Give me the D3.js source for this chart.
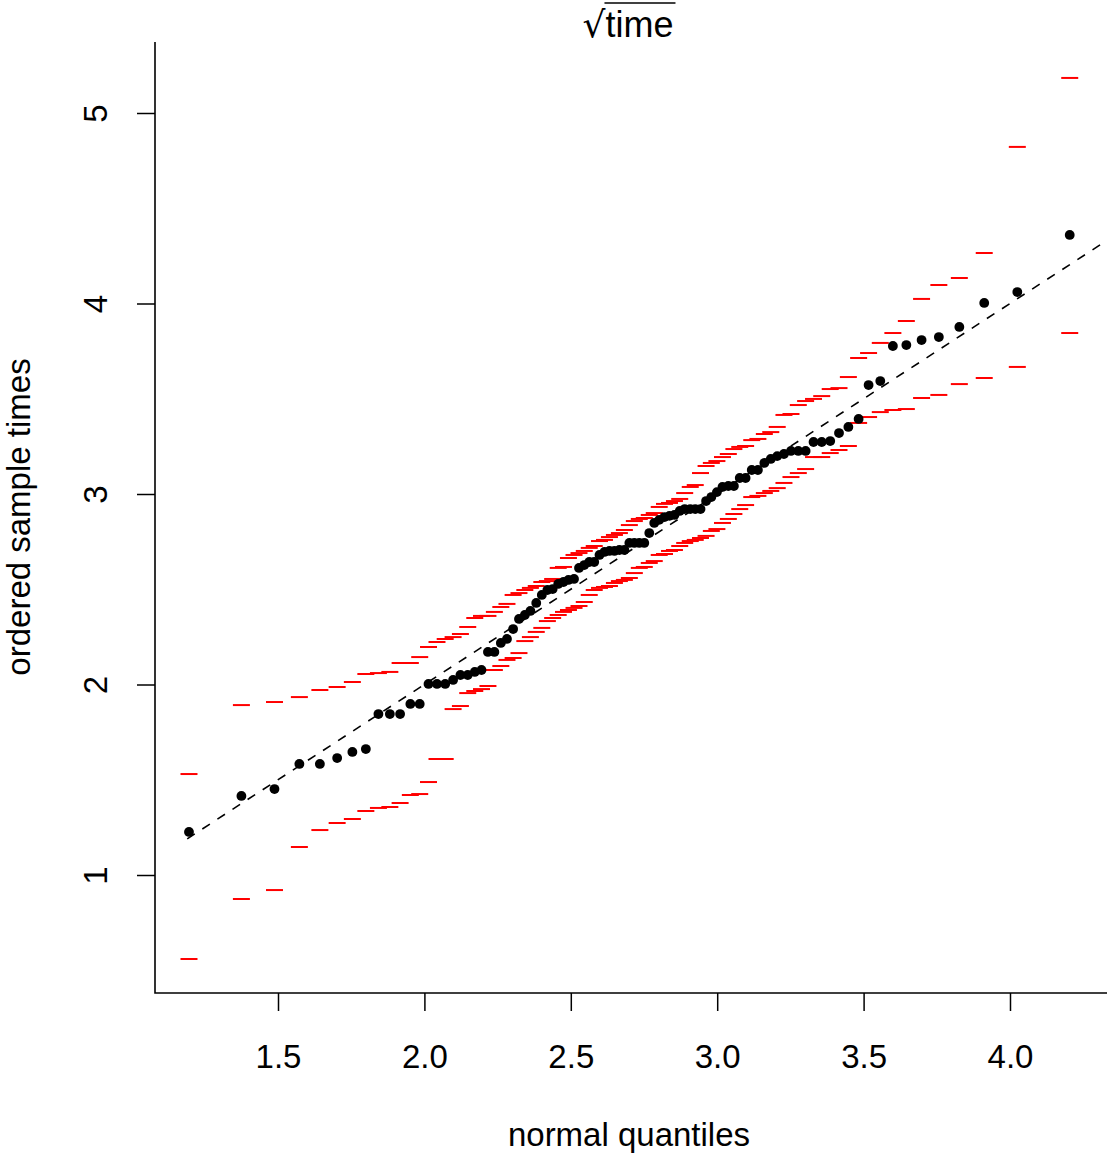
<!DOCTYPE html>
<html>
<head>
<meta charset="utf-8">
<script src="https://cdn.jsdelivr.net/npm/d3@7/dist/d3.min.js"></script>
<style>
  html, body { margin: 0; padding: 0; background: #fff; }
  svg { display: block; }
  text { font-family: "Liberation Sans", Arial, Helvetica, sans-serif; fill: #000; }
</style>
</head>
<body>
<svg id="chart" width="1107" height="1155"></svg>
<script>
// ---- data ----
const normalQuantiles = [
  1.196, 1.375, 1.488, 1.573, 1.643, 1.702, 1.754, 1.800, 1.843, 1.882,
  1.917, 1.952, 1.984, 2.014, 2.043, 2.071, 2.098, 2.123, 2.148, 2.172,
  2.195, 2.217, 2.239, 2.261, 2.282, 2.303, 2.323, 2.343, 2.362, 2.382,
  2.401, 2.420, 2.438, 2.457, 2.475, 2.492, 2.511, 2.528, 2.546, 2.563,
  2.580, 2.598, 2.615, 2.632, 2.649, 2.666, 2.683, 2.700, 2.717, 2.734,
  2.751, 2.768, 2.785, 2.802, 2.820, 2.837, 2.854, 2.872, 2.889, 2.908,
  2.925, 2.943, 2.962, 2.980, 2.999, 3.018, 3.038, 3.057, 3.077, 3.097,
  3.118, 3.139, 3.161, 3.183, 3.205, 3.228, 3.252, 3.277, 3.302, 3.329,
  3.357, 3.386, 3.416, 3.448, 3.483, 3.517, 3.557, 3.600, 3.646, 3.698,
  3.757, 3.827, 3.912, 4.025, 4.204
];
const sampleTimes = [
  1.226, 1.415, 1.451, 1.583, 1.583, 1.614, 1.646, 1.661, 1.845, 1.845,
  1.845, 1.898, 1.898, 2.003, 2.003, 2.003, 2.024, 2.050, 2.050, 2.066,
  2.076, 2.171, 2.171, 2.218, 2.239, 2.291, 2.344, 2.365, 2.386, 2.428,
  2.470, 2.496, 2.501, 2.528, 2.538, 2.549, 2.554, 2.612, 2.627, 2.643,
  2.643, 2.680, 2.696, 2.701, 2.701, 2.706, 2.706, 2.743, 2.743, 2.743,
  2.743, 2.795, 2.848, 2.864, 2.879, 2.885, 2.890, 2.911, 2.921, 2.921,
  2.921, 2.921, 2.963, 2.984, 3.010, 3.037, 3.042, 3.042, 3.084, 3.084,
  3.126, 3.126, 3.163, 3.184, 3.199, 3.210, 3.226, 3.226, 3.226, 3.273,
  3.273, 3.278, 3.320, 3.352, 3.394, 3.572, 3.593, 3.777, 3.782, 3.808,
  3.824, 3.877, 4.003, 4.060, 4.360
];
const upperBand = [
  1.530, 1.892, 1.908, 1.934, 1.971, 1.987, 2.013, 2.055, 2.060, 2.066,
  2.113, 2.113, 2.144, 2.197, 2.223, 2.239, 2.249, 2.265, 2.302, 2.349,
  2.360, 2.360, 2.381, 2.407, 2.423, 2.470, 2.480, 2.496, 2.507, 2.517,
  2.538, 2.543, 2.554, 2.612, 2.617, 2.664, 2.680, 2.690, 2.701, 2.717,
  2.727, 2.753, 2.759, 2.774, 2.785, 2.795, 2.811, 2.837, 2.858, 2.869,
  2.874, 2.890, 2.900, 2.932, 2.948, 2.953, 2.963, 2.974, 3.005, 3.037,
  3.047, 3.110, 3.147, 3.163, 3.173, 3.194, 3.210, 3.236, 3.247, 3.252,
  3.283, 3.289, 3.315, 3.325, 3.352, 3.415, 3.420, 3.467, 3.488, 3.499,
  3.514, 3.551, 3.556, 3.614, 3.714, 3.740, 3.793, 3.845, 3.908, 4.024,
  4.097, 4.134, 4.265, 4.822, 5.184
];
const lowerBand = [
  0.559, 0.874, 0.921, 1.147, 1.236, 1.273, 1.294, 1.336, 1.352, 1.357,
  1.378, 1.420, 1.425, 1.488, 1.609, 1.609, 1.871, 1.887, 1.955, 1.966,
  1.976, 1.992, 2.076, 2.097, 2.129, 2.139, 2.165, 2.228, 2.249, 2.276,
  2.297, 2.333, 2.349, 2.365, 2.381, 2.391, 2.402, 2.412, 2.433, 2.470,
  2.496, 2.507, 2.512, 2.517, 2.533, 2.543, 2.549, 2.559, 2.585, 2.612,
  2.617, 2.638, 2.648, 2.680, 2.685, 2.701, 2.706, 2.727, 2.743, 2.753,
  2.759, 2.769, 2.780, 2.806, 2.816, 2.848, 2.869, 2.895, 2.921, 2.942,
  2.984, 2.990, 3.005, 3.016, 3.031, 3.058, 3.089, 3.110, 3.131, 3.194,
  3.194, 3.215, 3.231, 3.252, 3.373, 3.404, 3.430, 3.441, 3.446, 3.504,
  3.520, 3.577, 3.609, 3.667, 3.845
];
const xTickValues = [1.5, 2.0, 2.5, 3.0, 3.5, 4.0];
const yTickValues = [1, 2, 3, 4, 5];
const refLineX = [1.19, 4.40];   // reference line y = x
const xDomain = [1.0799, 4.3313];
const yDomain = [0.3806, 5.3727];
const titleText = "time";
const xLabel = "normal quantiles";
const yLabel = "ordered sample times";

// ---- layout ----
const plot = { left: 155, right: 1107, top: 42, bottom: 993 };

const svg = d3.select("#chart");
const x = d3.scaleLinear().domain(xDomain).range([plot.left, plot.right]);
const y = d3.scaleLinear().domain(yDomain).range([plot.bottom, plot.top]);

svg.append("defs").append("clipPath").attr("id", "clip")
  .append("rect").attr("x", plot.left).attr("y", 0)
  .attr("width", plot.right - plot.left).attr("height", plot.bottom);

const pts = normalQuantiles.map((q, i) => ({
  q, s: sampleTimes[i], u: upperBand[i], l: lowerBand[i]
}));

// envelope bars
const g = svg.append("g").attr("clip-path", "url(#clip)");
const halfW = 8.5;
g.selectAll("line.up").data(pts).join("line")
  .attr("class", "up")
  .attr("x1", d => x(d.q) - halfW).attr("x2", d => x(d.q) + halfW)
  .attr("y1", d => y(d.u)).attr("y2", d => y(d.u))
  .attr("stroke", "#ff0000").attr("stroke-width", 2);
g.selectAll("line.lo").data(pts).join("line")
  .attr("class", "lo")
  .attr("x1", d => x(d.q) - halfW).attr("x2", d => x(d.q) + halfW)
  .attr("y1", d => y(d.l)).attr("y2", d => y(d.l))
  .attr("stroke", "#ff0000").attr("stroke-width", 2);

// reference line
g.append("line")
  .attr("x1", x(refLineX[0])).attr("y1", y(refLineX[0]))
  .attr("x2", x(refLineX[1])).attr("y2", y(refLineX[1]))
  .attr("stroke", "#000").attr("stroke-width", 1.6)
  .attr("stroke-dasharray", "9,9");

// points
g.selectAll("circle").data(pts).join("circle")
  .attr("cx", d => x(d.q)).attr("cy", d => y(d.s))
  .attr("r", 4.9).attr("fill", "#000");

// axes
const xAxis = d3.axisBottom(x).tickValues(xTickValues)
  .tickFormat(d3.format(".1f")).tickSize(18).tickSizeOuter(0);
const gx = svg.append("g").attr("transform", `translate(0,${plot.bottom})`).call(xAxis);
gx.select(".domain").remove();
gx.selectAll(".tick line").attr("stroke", "#000").attr("stroke-width", 1.5);
gx.selectAll(".tick text").attr("y", 0).attr("dy", null)
  .attr("transform", "translate(0,75)")
  .style("font-size", "33px").style("font-family", "Liberation Sans, Arial, sans-serif")
  .attr("fill", "#000");

const yAxis = d3.axisLeft(y).tickValues(yTickValues)
  .tickFormat(d3.format("d")).tickSize(18).tickSizeOuter(0);
const gy = svg.append("g").attr("transform", `translate(${plot.left},0)`).call(yAxis);
gy.select(".domain").remove();
gy.selectAll(".tick line").attr("stroke", "#000").attr("stroke-width", 1.5);
gy.selectAll(".tick text")
  .attr("x", null).attr("dy", null).attr("y", 0)
  .attr("text-anchor", "middle")
  .attr("transform", "translate(-48,0) rotate(-90)")
  .style("font-size", "33px").style("font-family", "Liberation Sans, Arial, sans-serif")
  .attr("fill", "#000");

// L-shaped frame
svg.append("path")
  .attr("d", `M${plot.left},${plot.top}V${plot.bottom}H${plot.right}`)
  .attr("fill", "none").attr("stroke", "#000").attr("stroke-width", 1.6);

// axis labels
svg.append("text").attr("x", 629).attr("y", 1146)
  .attr("text-anchor", "middle").style("font-size", "33px").text(xLabel);
svg.append("text")
  .attr("transform", "translate(30,517) rotate(-90)")
  .attr("text-anchor", "middle").style("font-size", "33px").text(yLabel);

// title with square-root sign
const title = svg.append("text").attr("x", 628).attr("y", 37)
  .attr("text-anchor", "middle").style("font-size", "36px");
title.append("tspan").attr("class", "rad").style("font-family", "DejaVu Sans").text("\u221A");
title.append("tspan").attr("class", "arg").text(titleText);
const argNode = title.select(".arg").node();
const bb = title.node().getBBox();
const argStart = argNode.getStartPositionOfChar(0).x;
svg.append("line")
  .attr("x1", argStart - 1).attr("x2", bb.x + bb.width + 2)
  .attr("y1", 3).attr("y2", 3)
  .attr("stroke", "#000").attr("stroke-width", 1.6);
</script>
</body>
</html>
